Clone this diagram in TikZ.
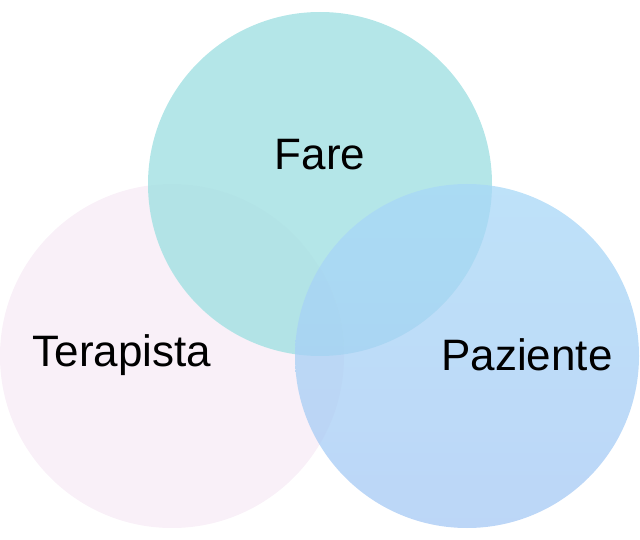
\documentclass[tikz,border=0pt]{standalone}
\usepackage{fontspec}
\setmainfont{Liberation Sans}
\begin{document}
\begin{tikzpicture}[x=1pt,y=-1pt,
  lbl/.style={font=\fontsize{44}{50}\selectfont, text=black}]
\useasboundingbox (0,0) rectangle (640,540);
\definecolor{pinkc}{HTML}{F8EEF7}
\definecolor{tealc}{HTML}{A7E2E4}
\definecolor{bluec}{HTML}{A8D8F7}
\definecolor{blue2}{HTML}{A6C8F4}
\fill[pinkc, opacity=0.9] (172,356) circle (172) node (L) {};
\fill[tealc, opacity=0.85] (320,184) circle (172) node (T) {};
\begin{scope}[opacity=0.75]
\shade[top color=bluec, bottom color=blue2] (467,356) circle (172);
\end{scope}
\coordinate (R) at (467,356);
\node[lbl] (tf) at (320,155) {Fare};
\node[lbl] (tt) at (122,355) {Terapista};
\node[lbl] (tp) at (527,355) {Paziente};
\end{tikzpicture}
\end{document}
